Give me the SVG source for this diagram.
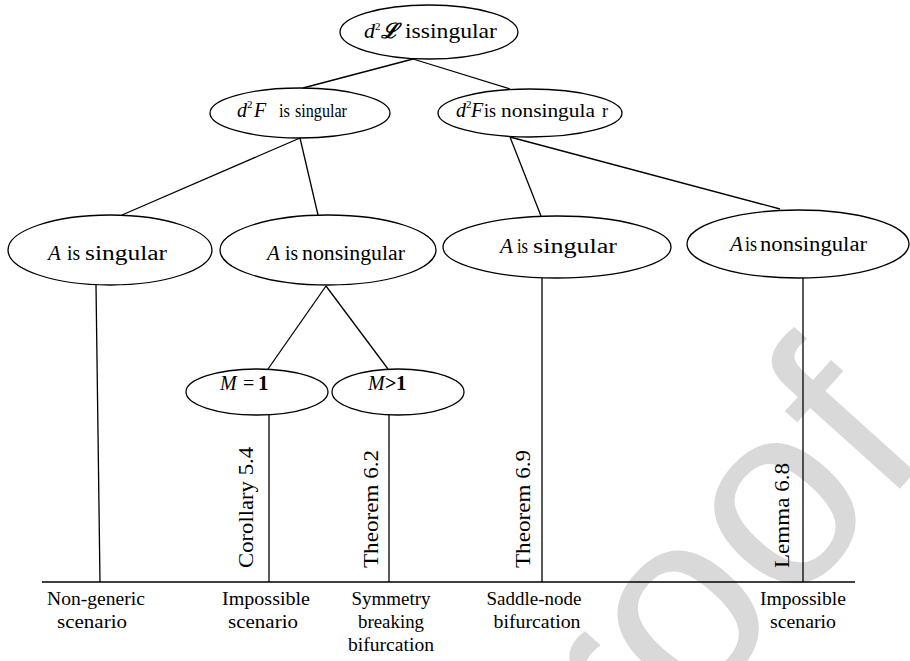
<svg xmlns="http://www.w3.org/2000/svg" width="910" height="661" viewBox="0 0 910 661">
<style>
.bg{fill:#ffffff}
.wm{font-family:"Liberation Sans",Arial,sans-serif;font-size:260px;fill:#d9d9d9}
.node ellipse{fill:none;stroke:#000;stroke-width:1.3}
.conn line{stroke:#000;stroke-width:1.3}
.t{font-family:"Liberation Serif","DejaVu Serif",serif;fill:#000}
.it{font-style:italic}
.b{font-weight:bold}
.rot{font-family:"Liberation Serif","DejaVu Serif",serif;font-size:22px;fill:#000}
.lbl{font-family:"Liberation Serif","DejaVu Serif",serif;font-size:18px;fill:#000;text-anchor:middle}
</style>
<rect class="bg" x="0" y="0" width="910" height="661"/>
<text class="wm" transform="translate(517,914) rotate(-48)">Proof</text>

<g id="connectors" class="conn">
  <line x1="413" y1="59" x2="303" y2="88"/>
  <line x1="413" y1="59" x2="510" y2="89"/>
  <line x1="300" y1="138" x2="122" y2="215"/>
  <line x1="300" y1="138" x2="318" y2="215"/>
  <line x1="510" y1="137" x2="541" y2="216"/>
  <line x1="510" y1="137" x2="780" y2="209"/>
  <line x1="326" y1="286" x2="268" y2="369"/>
  <line x1="326" y1="286" x2="388" y2="369"/>
  <line x1="96" y1="285" x2="100" y2="582"/>
  <line x1="269" y1="415" x2="269" y2="582"/>
  <line x1="389" y1="415" x2="389" y2="582"/>
  <line x1="542" y1="278" x2="542" y2="582"/>
  <line x1="803" y1="278" x2="803" y2="582"/>
  <line x1="42" y1="582" x2="855" y2="582"/>
</g>

<g id="n-top" class="node">
  <ellipse cx="429" cy="32" rx="89" ry="27"/>
  <text class="t it" x="364" y="38" font-size="22">d</text>
  <text class="t" x="375" y="30" font-size="11">2</text>
  <text x="381" y="38" font-size="21" font-family="DejaVu Serif,serif" font-weight="bold" font-style="italic" textLength="17" lengthAdjust="spacingAndGlyphs">ℒ</text>
  <text class="t" x="405" y="38" font-size="21" textLength="92" lengthAdjust="spacingAndGlyphs">issingular</text>
</g>

<g id="n-d2F-sing" class="node">
  <ellipse cx="300" cy="113" rx="90" ry="25"/>
  <text class="t it" x="237" y="117" font-size="20">d</text>
  <text class="t" x="247" y="108" font-size="11">2</text>
  <text class="t it" x="254" y="117" font-size="20">F</text>
  <text class="t" x="279" y="117" font-size="18" textLength="11" lengthAdjust="spacingAndGlyphs">is</text>
  <text class="t" x="295" y="117" font-size="18" textLength="52" lengthAdjust="spacingAndGlyphs">singular</text>
</g>

<g id="n-d2F-nonsing" class="node">
  <ellipse cx="530" cy="113" rx="92" ry="24"/>
  <text class="t it" x="456" y="117" font-size="20">d</text>
  <text class="t" x="466" y="108" font-size="11">2</text>
  <text class="t it" x="471" y="117" font-size="20">F</text>
  <text class="t" x="484" y="117" font-size="18" textLength="12" lengthAdjust="spacingAndGlyphs">is</text>
  <text class="t" x="501" y="117" font-size="18" textLength="94" lengthAdjust="spacingAndGlyphs">nonsingula</text>
  <text class="t" x="602" y="117" font-size="18">r</text>
</g>

<g id="n-A-sing-1" class="node">
  <ellipse cx="110" cy="250" rx="102" ry="35"/>
  <text class="t it" x="48" y="260" font-size="21">A</text>
  <text class="t" x="67" y="260" font-size="20" textLength="13" lengthAdjust="spacingAndGlyphs">is</text>
  <text class="t" x="85" y="260" font-size="20" textLength="82" lengthAdjust="spacingAndGlyphs">singular</text>
</g>

<g id="n-A-nonsing-1" class="node">
  <ellipse cx="328" cy="250" rx="108" ry="35"/>
  <text class="t it" x="267" y="260" font-size="21">A</text>
  <text class="t" x="285" y="260" font-size="20" textLength="13" lengthAdjust="spacingAndGlyphs">is</text>
  <text class="t" x="302" y="260" font-size="20" textLength="103" lengthAdjust="spacingAndGlyphs">nonsingular</text>
</g>

<g id="n-A-sing-2" class="node">
  <ellipse cx="557" cy="247" rx="114" ry="31"/>
  <text class="t it" x="500" y="253" font-size="21">A</text>
  <text class="t" x="517" y="253" font-size="20" textLength="11" lengthAdjust="spacingAndGlyphs">is</text>
  <text class="t" x="533" y="253" font-size="20" textLength="84" lengthAdjust="spacingAndGlyphs">singular</text>
</g>

<g id="n-A-nonsing-2" class="node">
  <ellipse cx="798" cy="244" rx="111" ry="34"/>
  <text class="t it" x="730" y="251" font-size="21">A</text>
  <text class="t" x="745" y="251" font-size="20" textLength="12" lengthAdjust="spacingAndGlyphs">is</text>
  <text class="t" x="760" y="251" font-size="20" textLength="107" lengthAdjust="spacingAndGlyphs">nonsingular</text>
</g>

<g id="n-M1" class="node">
  <ellipse cx="257" cy="392" rx="71" ry="23"/>
  <text class="t it" x="220" y="390" font-size="20">M</text>
  <text class="t" x="243" y="390" font-size="20">=</text>
  <text class="t b" x="258" y="390" font-size="21">1</text>
</g>

<g id="n-Mgt1" class="node">
  <ellipse cx="398" cy="392" rx="66" ry="23"/>
  <text class="t it" x="368" y="390" font-size="20">M</text>
  <text class="t b" x="385" y="390" font-size="20">&gt;</text>
  <text class="t b" x="396" y="390" font-size="21">1</text>
</g>

<g id="refs">
  <text class="rot" transform="translate(253,568) rotate(-90)" textLength="121" lengthAdjust="spacingAndGlyphs">Corollary 5.4</text>
  <text class="rot" transform="translate(378,568) rotate(-90)" textLength="118" lengthAdjust="spacingAndGlyphs">Theorem 6.2</text>
  <text class="rot" transform="translate(530,568) rotate(-90)" textLength="118" lengthAdjust="spacingAndGlyphs">Theorem 6.9</text>
  <text class="rot" transform="translate(789,568) rotate(-90)" textLength="105" lengthAdjust="spacingAndGlyphs">Lemma 6.8</text>
</g>

<g id="outcomes">
  <text class="lbl" x="96" y="605" textLength="98" lengthAdjust="spacingAndGlyphs">Non-generic</text>
  <text class="lbl" x="92" y="628" textLength="70" lengthAdjust="spacingAndGlyphs">scenario</text>
  <text class="lbl" x="266" y="605" textLength="88" lengthAdjust="spacingAndGlyphs">Impossible</text>
  <text class="lbl" x="263" y="628" textLength="70" lengthAdjust="spacingAndGlyphs">scenario</text>
  <text class="lbl" x="391" y="605" textLength="79" lengthAdjust="spacingAndGlyphs">Symmetry</text>
  <text class="lbl" x="391" y="628" textLength="66" lengthAdjust="spacingAndGlyphs">breaking</text>
  <text class="lbl" x="391" y="651" textLength="86" lengthAdjust="spacingAndGlyphs">bifurcation</text>
  <text class="lbl" x="534" y="605" textLength="95" lengthAdjust="spacingAndGlyphs">Saddle-node</text>
  <text class="lbl" x="537" y="628" textLength="87" lengthAdjust="spacingAndGlyphs">bifurcation</text>
  <text class="lbl" x="803" y="605" textLength="86" lengthAdjust="spacingAndGlyphs">Impossible</text>
  <text class="lbl" x="803" y="628" textLength="66" lengthAdjust="spacingAndGlyphs">scenario</text>
</g>
</svg>
